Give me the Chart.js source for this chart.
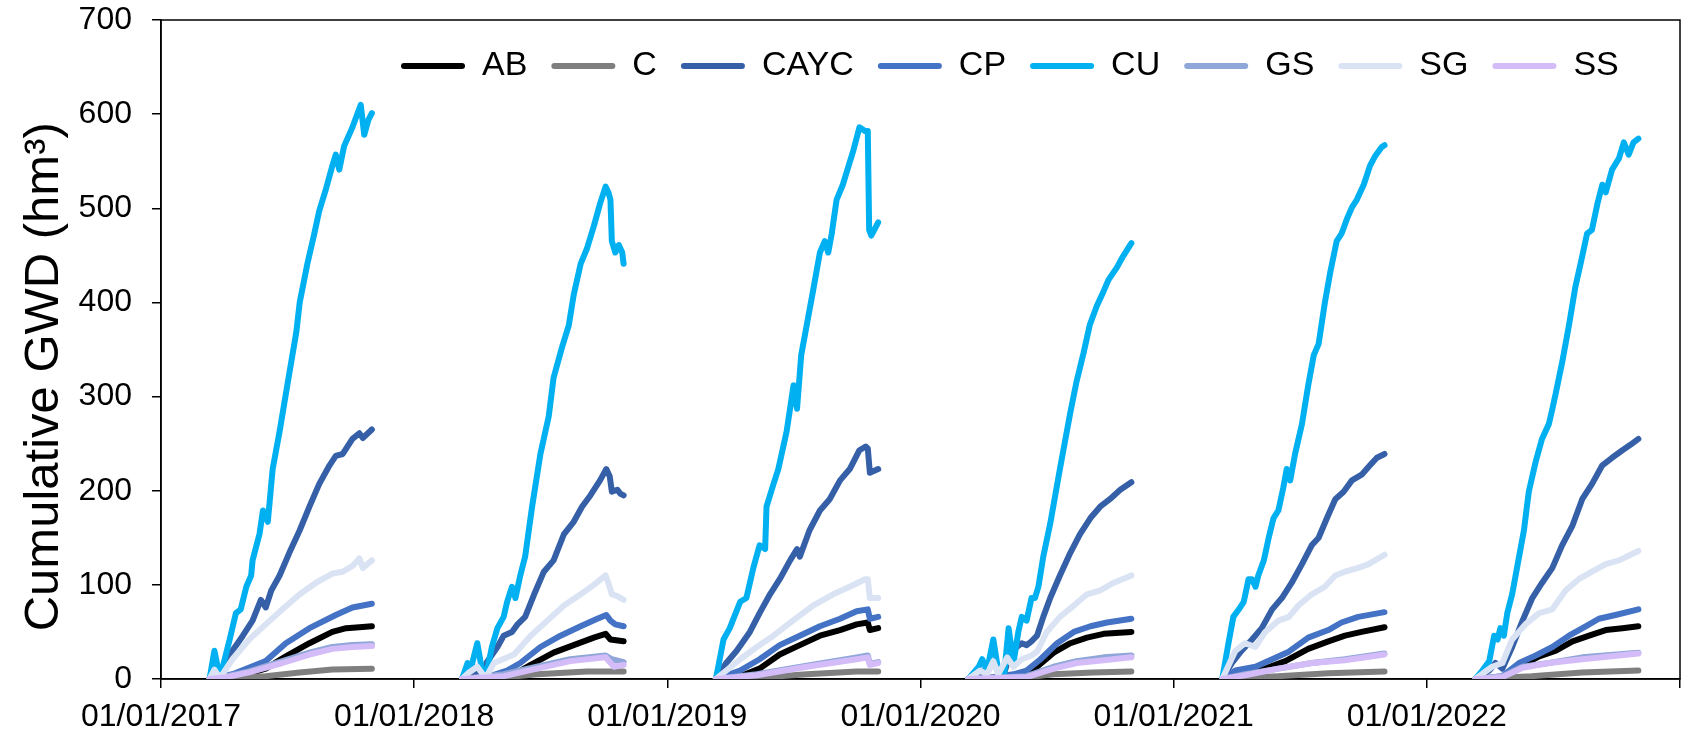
<!DOCTYPE html>
<html>
<head>
<meta charset="utf-8">
<title>Cumulative GWD</title>
<script src="https://cdn.jsdelivr.net/npm/chart.js@4.4.1/dist/chart.umd.min.js"></script>
<style>
  html, body { margin: 0; padding: 0; background: #fff; }
  #wrap { width: 1690px; height: 734px; position: relative; }
</style>
</head>
<body>
<div id="wrap"><canvas id="gwdChart"></canvas></div>
<script>
  // seasons (one per year), points are [day of year, cumulative GWD in hm3]
  const years = [2017, 2018, 2019, 2020, 2021, 2022];
  const seriesNames = ['AB', 'C', 'CAYC', 'CP', 'CU', 'GS', 'SG', 'SS'];
  const seriesColors = ['#000000', '#7f7f7f', '#3560a8', '#4472c4', '#00b0f0', '#8fa6d8', '#dae3f3', '#d4bcf8'];

  const AB = [
    [[71,0],[114,3],[152,11],[181,24],[215,38],[248,50],[268,54],[287,55],[305,56]],
    [[70,0],[106,0],[145,5],[169,15],[202,28],[231,36],[260,44],[277,48],[284,42],[303,40]],
    [[71,0],[106,3],[134,11],[163,26],[192,36],[221,46],[250,52],[274,58],[290,60],[293,52],[305,54]],
    [[70,0],[145,3],[169,13],[193,28],[217,38],[241,44],[265,48],[305,50]],
    [[71,0],[104,7],[133,11],[162,19],[195,32],[224,40],[248,46],[272,50],[305,55]],
    [[71,0],[110,1],[134,13],[163,24],[187,30],[211,40],[235,46],[259,52],[283,54],[306,56]]
  ];
  const C = [
    [[71,0],[152,3],[201,7],[248,10],[305,11]],
    [[70,0],[106,0],[178,5],[250,8],[303,8]],
    [[71,0],[106,0],[202,5],[274,8],[305,8]],
    [[70,0],[130,0],[193,5],[250,7],[305,8]],
    [[71,0],[152,3],[224,6],[305,8]],
    [[71,0],[152,3],[225,7],[306,9]]
  ];
  const CAYC = [
    [[71,0],[78,8],[86,2],[104,30],[119,46],[133,62],[145,84],[152,76],[160,94],[172,110],[186,134],[201,158],[215,183],[229,207],[244,227],[253,237],[263,239],[277,255],[287,261],[292,256],[305,265]],
    [[70,0],[92,8],[99,3],[106,18],[121,34],[130,46],[142,50],[150,58],[161,66],[174,90],[188,114],[202,126],[217,154],[231,167],[243,183],[255,195],[269,211],[278,223],[283,215],[286,199],[294,201],[298,197],[303,195]],
    [[71,0],[86,17],[101,30],[120,50],[134,70],[149,90],[163,106],[178,126],[188,138],[192,130],[206,158],[221,179],[235,191],[250,211],[264,223],[278,243],[287,247],[290,245],[293,219],[305,223]],
    [[70,0],[86,5],[106,17],[121,5],[130,26],[140,34],[147,38],[154,36],[161,40],[169,46],[178,66],[188,86],[202,110],[217,134],[231,154],[246,171],[260,183],[274,191],[289,201],[305,209]],
    [[71,0],[85,17],[99,30],[114,42],[128,54],[143,74],[157,86],[171,102],[186,122],[200,142],[210,150],[222,171],[234,191],[246,199],[258,211],[272,217],[284,227],[294,235],[305,239]],
    [[71,0],[91,9],[100,17],[110,11],[124,34],[139,62],[153,86],[167,102],[182,118],[196,142],[211,163],[225,191],[239,207],[254,227],[268,235],[283,243],[295,249],[306,255]]
  ];
  const CP = [
    [[71,0],[104,5],[152,19],[181,38],[215,54],[253,68],[277,76],[305,80]],
    [[70,0],[106,2],[135,9],[154,17],[183,34],[212,46],[241,56],[265,64],[278,68],[284,62],[291,58],[303,56]],
    [[71,0],[106,9],[134,21],[163,36],[192,46],[221,56],[250,64],[274,72],[290,74],[293,64],[305,66]],
    [[70,0],[106,2],[135,5],[154,9],[174,21],[198,38],[222,50],[246,56],[270,60],[305,64]],
    [[71,0],[90,9],[119,13],[143,21],[167,29],[195,44],[224,52],[243,60],[267,66],[305,71]],
    [[71,0],[110,3],[134,17],[158,25],[182,34],[206,46],[230,56],[249,64],[273,68],[306,74]]
  ];
  const CU = [
    [[71,0],[78,30],[86,1],[100,42],[109,70],[116,74],[124,98],[131,110],[133,126],[143,154],[148,179],[155,167],[162,223],[172,263],[184,316],[196,368],[201,400],[212,441],[222,473],[229,497],[239,521],[248,545],[253,557],[258,541],[265,566],[277,586],[289,610],[294,578],[300,594],[305,601]],
    [[70,0],[78,17],[82,9],[92,38],[99,9],[104,1],[113,34],[121,54],[130,66],[135,82],[142,98],[147,86],[154,110],[161,130],[171,183],[183,239],[195,279],[202,320],[214,352],[224,376],[231,408],[241,441],[250,457],[260,481],[269,505],[277,523],[281,517],[284,509],[286,465],[291,453],[296,461],[301,453],[303,441]],
    [[71,0],[82,42],[91,54],[106,82],[115,86],[125,118],[134,142],[142,138],[144,183],[154,207],[161,223],[173,263],[183,312],[188,287],[194,344],[202,376],[211,412],[221,453],[228,465],[233,453],[238,473],[245,509],[254,525],[259,537],[269,561],[278,586],[286,582],[290,582],[292,477],[295,471],[305,485]],
    [[70,0],[85,13],[90,21],[97,9],[106,42],[113,9],[121,0],[128,54],[135,17],[142,50],[147,66],[154,62],[161,86],[166,86],[171,98],[178,130],[188,165],[202,223],[217,283],[226,316],[236,346],[245,376],[255,396],[265,412],[272,424],[284,437],[293,449],[305,463]],
    [[71,0],[80,38],[87,66],[95,74],[102,82],[109,106],[114,106],[119,98],[123,110],[131,126],[138,150],[145,171],[152,179],[159,203],[164,223],[169,211],[176,239],[186,271],[195,312],[203,344],[210,356],[219,400],[227,433],[236,465],[243,473],[251,489],[258,501],[265,509],[275,525],[284,545],[291,555],[301,565],[305,567]],
    [[71,0],[81,9],[91,19],[98,46],[103,42],[107,54],[112,46],[117,70],[124,90],[134,130],[141,158],[148,199],[158,231],[167,255],[177,271],[182,287],[187,304],[196,336],[206,376],[215,416],[225,449],[232,473],[239,477],[247,505],[254,525],[259,517],[268,541],[278,553],[285,570],[292,557],[299,570],[306,574]]
  ];
  const GS = [
    [[71,0],[95,3],[128,8],[176,19],[215,28],[248,34],[277,36],[305,37]],
    [[70,0],[130,5],[178,13],[226,21],[277,25],[286,21],[303,18]],
    [[71,0],[130,5],[202,14],[274,23],[290,25],[293,16],[305,18]],
    [[70,0],[154,3],[193,13],[226,19],[265,23],[305,25]],
    [[71,0],[104,5],[152,11],[200,17],[248,21],[305,27]],
    [[71,0],[110,3],[139,13],[177,17],[225,23],[306,28]]
  ];
  const SG = [
    [[71,0],[78,10],[86,1],[104,21],[128,42],[152,58],[176,74],[201,90],[224,102],[248,112],[263,114],[277,120],[287,128],[292,118],[305,126]],
    [[70,0],[80,7],[92,13],[104,1],[116,17],[145,26],[169,46],[193,62],[217,78],[241,90],[260,100],[277,110],[281,102],[286,90],[294,88],[303,84]],
    [[71,0],[106,21],[130,34],[154,46],[182,62],[211,78],[240,90],[264,98],[286,106],[290,106],[293,86],[305,86]],
    [[70,0],[87,9],[97,5],[106,19],[113,5],[126,23],[135,13],[147,21],[161,25],[169,29],[183,50],[202,66],[222,78],[241,90],[260,94],[279,102],[305,110]],
    [[71,0],[90,30],[104,38],[119,34],[133,50],[152,62],[167,66],[181,78],[200,90],[219,98],[234,110],[248,114],[267,118],[282,122],[305,132]],
    [[71,0],[95,13],[110,17],[124,42],[143,58],[163,70],[182,74],[201,94],[220,106],[239,114],[259,122],[278,126],[306,136]]
  ];
  const SS = [
    [[71,0],[95,2],[128,7],[176,17],[215,26],[248,32],[277,34],[305,35]],
    [[70,0],[130,3],[178,11],[226,19],[277,23],[289,13],[303,15]],
    [[71,0],[130,4],[202,13],[274,21],[290,23],[293,15],[305,17]],
    [[70,0],[154,2],[193,11],[226,17],[265,20],[305,23]],
    [[71,0],[104,4],[152,11],[200,17],[248,20],[305,26]],
    [[71,0],[110,2],[139,12],[177,17],[225,21],[306,27]]
  ];
  const seriesData = [AB, C, CAYC, CP, CU, GS, SG, SS];

  // x is a decimal year; a null point after each season breaks the line
  function toPoints(seasons) {
    const pts = [];
    seasons.forEach((season, i) => {
      season.forEach(([day, v]) => pts.push({ x: years[i] + (day - 1) / 365, y: v }));
      pts.push({ x: years[i] + 0.99, y: null });
    });
    return pts;
  }

  const plotFrame = {
    id: 'plotFrame',
    beforeDatasetsDraw(chart) {
      const { ctx, chartArea: a } = chart;
      ctx.save();
      ctx.strokeStyle = '#000';
      ctx.lineWidth = 1.5;
      ctx.strokeRect(a.left, a.top, a.right - a.left, a.bottom - a.top);
      ctx.restore();
    }
  };

  // put the legend row inside the plot, like the original
  const legendInside = {
    id: 'legendInside',
    afterLayout(chart) {
      const lg = chart.legend;
      lg.left = 377;
      lg.right = 1682;
      lg.top = 25;
      lg.bottom = 110;
    }
  };

  Chart.defaults.font.family = '"Liberation Sans", Arial, sans-serif';
  Chart.defaults.color = '#000';

  const ctx = document.getElementById('gwdChart').getContext('2d');
  const gwdChart = new Chart(ctx, {
    type: 'line',
    data: {
      datasets: seriesNames.map((name, i) => ({
        label: name,
        data: toPoints(seriesData[i]),
        borderColor: seriesColors[i],
        backgroundColor: seriesColors[i],
        borderWidth: 6,
        borderCapStyle: 'round',
        borderJoinStyle: 'round',
        pointRadius: 0,
        tension: 0,
        order: seriesNames.length - i
      }))
    },
    options: {
      responsive: true,
      maintainAspectRatio: false,
      animation: false,
      layout: {
        padding: { top: 19, right: 8, bottom: 0, left: 0 }
      },
      scales: {
        x: {
          type: 'linear',
          min: 2017,
          max: 2023,
          ticks: {
            stepSize: 1,
            autoSkip: false,
            maxRotation: 0,
            padding: 10,
            font: { size: 32 },
            callback: (v) => v < 2023 ? '01/01/' + v : ''
          },
          grid: { drawOnChartArea: false, drawTicks: true, tickLength: 9, color: '#000', lineWidth: 1.5 },
          border: { color: '#000', width: 1.5 },
          afterFit: (scale) => { scale.height = 55; }
        },
        y: {
          min: 0,
          max: 700,
          ticks: { stepSize: 100, padding: 20, font: { size: 32 } },
          grid: { drawOnChartArea: false, drawTicks: true, tickLength: 9, color: '#000', lineWidth: 1.5 },
          border: { color: '#000', width: 1.5 },
          title: {
            display: true,
            text: 'Cumulative GWD (hm³)    ',
            font: { size: 49 },
            padding: { top: 15, bottom: 0 }
          },
          afterFit: (scale) => {
            scale.width = 161;
            scale.paddingTop = 0;
            scale.paddingBottom = 0;
          }
        }
      },
      plugins: {
        tooltip: { enabled: false },
        legend: {
          position: 'top',
          align: 'start',
          maxHeight: 1,
          labels: {
            font: { size: 34 },
            boxWidth: 64,
            boxHeight: 6,
            padding: 24,
            useBorderRadius: true,
            borderRadius: 3,
            sort: (a, b) => a.datasetIndex - b.datasetIndex,
            generateLabels: (chart) => Chart.defaults.plugins.legend.labels.generateLabels(chart)
              .map(item => ({ ...item, lineWidth: 0 }))
          }
        }
      }
    },
    plugins: [plotFrame, legendInside]
  });
</script>
</body>
</html>
